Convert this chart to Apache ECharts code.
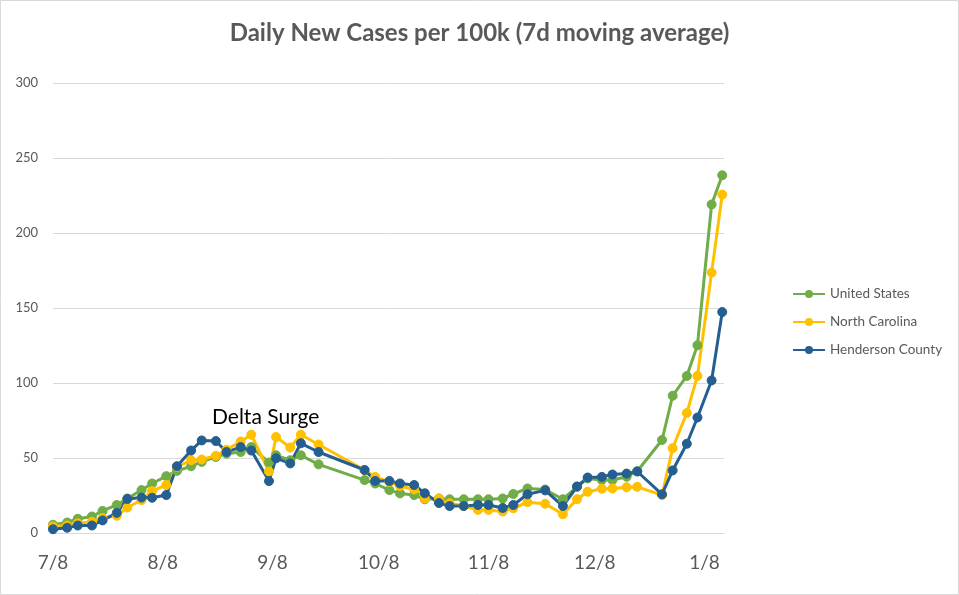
<!DOCTYPE html>
<html>
<head>
<meta charset="utf-8">
<script src="https://cdn.jsdelivr.net/npm/echarts@6/dist/echarts.min.js"></script>
<style>
html,body{margin:0;padding:0;background:#fff;}
#chart{width:959px;height:595px;}
</style>
</head>
<body>
<div id="chart"></div>
<script>
// Day offsets from 7/8 (2021)
var days = [0,4,7,11,14,18,21,25,28,32,35,39,42,46,49,53,56,61,63,67,70,75,88,91,95,98,102,105,109,112,116,120,123,127,130,134,139,144,148,151,155,158,162,165,172,175,179,182,186,189];

var unitedStates = [5.5,7,9.5,11,14.7,18.7,23,28.6,33,37.9,
  41.4,44.5,47.4,50.7,52.9,54,57.3,47,51.8,48.5,
  51.8,45.8,35.3,33,28.6,26.4,25.3,22.5,23,22.5,
  22.5,22.5,22.5,23,26,29.7,29,22.5,30.8,36.4,
  35.3,35.3,37.5,41.2,62,91.5,104.7,125.2,219,238.5];

var northCarolina = [4.4,5,6.5,7.5,10,11.5,17,22,28,32,
  44,48.5,49,51.5,55.5,61,65.5,41,64,57,
  65.5,59,42,37.4,34,31.3,29,23,23,19.8,
  18,15.4,15.4,14.3,16.5,20.5,19.5,12.5,22.5,27.5,
  29.5,29.7,30.5,30.8,25.3,56.6,80,104.7,173.6,225.6];

var hendersonCounty = [2.5,3.5,5,5,8.4,13.4,22.7,23.6,23.5,25.3,
  44.5,55,61.7,61.3,54,57.3,55,34.6,49.8,46.4,
  59.8,54,42,34.7,34.7,33,32,26.5,20,18,
  18,18.7,18.7,16.7,18.7,25.8,28.4,18,31,37,
  37.4,39,39.6,41,25.8,41.7,59.5,77,101.7,147.3];

var tickDays = [0,31,62,92,123,153,184];
var tickLabels = ['7/8','8/8','9/8','10/8','11/8','12/8','1/8'];

var seriesNames = ['United States','North Carolina','Henderson County'];
var seriesColors = ['#70ad47','#ffc000','#255e91'];
var seriesValues = [unitedStates, northCarolina, hendersonCounty];

function pairs(vals){
  return days.map(function(d,i){ return [d, vals[i]]; });
}

var FONT = 'Lato, "Open Sans", sans-serif';

var chart = echarts.init(document.getElementById('chart'), null, {renderer:'canvas'});
chart.setOption({
  animation:false,
  backgroundColor:'#ffffff',
  title:{
    text:'Daily New Cases per 100k (7d moving average)',
    left:'center',
    top:16,
    textStyle:{fontFamily:FONT, fontSize:24, fontWeight:'bold', color:'#595959'}
  },
  legend:{
    orient:'vertical',
    left:792,
    top:287,
    padding:0,
    itemWidth:32,
    itemHeight:10,
    itemGap:14,
    data:seriesNames,
    textStyle:{fontFamily:FONT, fontSize:13.5, color:'#595959'}
  },
  grid:{left:53, right:235, top:83, bottom:62, containLabel:false},
  xAxis:{
    type:'value',
    min:0,
    max:189.5,
    axisLine:{show:true, lineStyle:{color:'#d9d9d9', width:1}},
    axisTick:{show:false},
    splitLine:{show:false},
    axisLabel:{
      customValues:tickDays,
      formatter:function(v){ var i = tickDays.indexOf(v); return i>=0 ? tickLabels[i] : ''; },
      fontFamily:FONT, fontSize:19, color:'#595959', margin:20
    }
  },
  yAxis:{
    type:'value',
    min:0,
    max:300,
    interval:50,
    axisLine:{show:false},
    axisTick:{show:false},
    splitLine:{lineStyle:{color:'#d9d9d9', width:1}},
    axisLabel:{fontFamily:FONT, fontSize:13, color:'#595959', margin:15}
  },
  graphic:[
    {type:'rect', shape:{x:0.5,y:0.5,width:958,height:594}, style:{fill:'none', stroke:'#d9d9d9', lineWidth:1}, silent:true},
    {type:'text', left:212, top:407, style:{text:'Delta Surge', fontFamily:FONT, fontSize:21, fill:'#000000'}}
  ],
  series:seriesNames.map(function(name, k){
    return {
      name:name,
      type:'line',
      data:pairs(seriesValues[k]),
      symbol:'circle',
      symbolSize:9,
      showAllSymbol:true,
      clip:false,
      lineStyle:{color:seriesColors[k], width:3},
      itemStyle:{color:seriesColors[k], borderColor:seriesColors[k]},
      emphasis:{disabled:true}
    };
  })
});
</script>
</body>
</html>
